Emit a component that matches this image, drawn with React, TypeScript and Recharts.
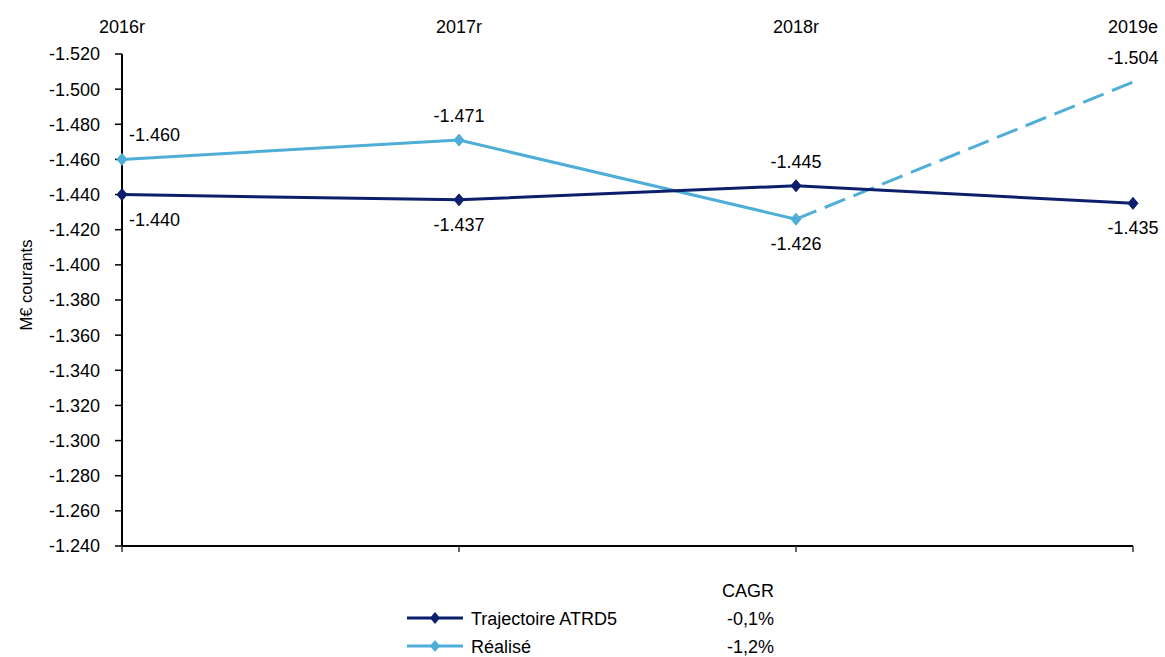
import React from 'react';
import { LineChart, Line, XAxis, YAxis, Legend, LabelList } from 'recharts';

// ---- data ----
const years = ['2016r', '2017r', '2018r', '2019e'];
const trajectoireValues = [-1440, -1437, -1445, -1435];
const realiseValues = [-1460, -1471, -1426, -1504];
const firstEstimateIndex = 3; // 2019e is an estimate (dashed)
const seriesNames = ['Trajectoire ATRD5', 'Réalisé'];
const cagrValues = ['-0,1%', '-1,2%'];
const cagrHeader = 'CAGR';
const yTicks = [-1520, -1500, -1480, -1460, -1440, -1420, -1400, -1380, -1360, -1340, -1320, -1300, -1280, -1260, -1240];
const yAxisTitle = 'M€ courants';

// ---- style ----
const NAVY = '#0b1f6c';
const LIGHT = '#4eaed8';
const FONT = '"Liberation Sans", Arial, Helvetica, sans-serif';
const trajLabelSide = ['below', 'below', 'above', 'below'];
const realLabelSide = ['above', 'above', 'below', 'above'];

const data = years.map((year, i) => ({
  year,
  trajectoire: trajectoireValues[i],
  realise: i < firstEstimateIndex ? realiseValues[i] : null,
  realiseEstimate: i >= firstEstimateIndex - 1 ? realiseValues[i] : null,
}));

const formatValue = (v: number) => {
  const sign = v < 0 ? '-' : '';
  const s = String(Math.abs(v));
  return sign + s.replace(/\B(?=(\d{3})+(?!\d))/g, '.');
};

const makeLabel = (sides: string[], allow: (i: number) => boolean) => (props: any) => {
  const { value, index } = props;
  if (value == null || !allow(index)) return null;
  const px = props.x ?? props.viewBox?.x;
  const py = props.y ?? props.viewBox?.y;
  const above = sides[index] === 'above';
  const first = index === 0;
  return (
    <text
      x={first ? px + 7 : px}
      y={above ? py - 18 : py + 31}
      textAnchor={first ? 'start' : 'middle'}
      fontSize={18}
      fill="#000"
      fontFamily={FONT}
    >
      {formatValue(value)}
    </text>
  );
};

const makeDiamond = (color: string) => (props: any) => {
  const { cx, cy, value, index } = props;
  if (value == null || cx == null || cy == null) return <g key={`d-${index}`} />;
  return (
    <path
      key={`d-${index}`}
      d={`M${cx},${cy - 6}L${cx + 5},${cy}L${cx},${cy + 6}L${cx - 5},${cy}Z`}
      fill={color}
      stroke={color}
      strokeWidth={1}
    />
  );
};

const renderYTitle = (props: any) => {
  const vb = props.viewBox || { x: 0, y: 54, width: 122, height: 492 };
  const x = vb.x + 32;
  const y = vb.y + vb.height / 2 - 15;
  return (
    <text x={x} y={y} transform={`rotate(-90 ${x} ${y})`} textAnchor="middle" fontSize={16.5} fill="#000" fontFamily={FONT}>
      {yAxisTitle}
    </text>
  );
};

const renderNoTick = () => <g />;

const colors = [NAVY, LIGHT];

const renderLegend = () => (
  <svg width={1165} height={87} style={{ display: 'block', fontFamily: FONT }}>
    <text x={748} y={27} textAnchor="middle" fontSize={18} fill="#000">
      {cagrHeader}
    </text>
    {seriesNames.map((name, i) => {
      const cy = 48 + i * 28;
      const c = colors[i];
      return (
        <g key={name}>
          <line x1={407} x2={463} y1={cy} y2={cy} stroke={c} strokeWidth={3} />
          <path d={`M435,${cy - 6}L440,${cy}L435,${cy + 6}L430,${cy}Z`} fill={c} />
          <text x={471} y={cy + 7} fontSize={18} fill="#000">
            {name}
          </text>
          <text x={774} y={cy + 7} fontSize={18} fill="#000" textAnchor="end">
            {cagrValues[i]}
          </text>
        </g>
      );
    })}
  </svg>
);

export default function App() {
  return (
    <div style={{ position: 'absolute', left: 0, top: 0, width: 1165, height: 657, fontFamily: FONT, background: '#fff' }}>
      <LineChart width={1165} height={657} data={data} margin={{ top: 0, right: 32, bottom: 101, left: 0 }}>
        <XAxis
          xAxisId="top"
          dataKey="year"
          orientation="top"
          height={54}
          axisLine={false}
          tickLine={false}
          tickSize={0}
          tickMargin={21}
          interval={0}
          tick={{ fill: '#000', fontSize: 18 }}
        />
        <XAxis
          xAxisId="bottom"
          dataKey="year"
          orientation="bottom"
          height={10}
          axisLine={{ stroke: '#000', strokeWidth: 2 }}
          tickLine={{ stroke: '#333', strokeWidth: 1.5 }}
          tickSize={6}
          interval={0}
          tick={renderNoTick}
        />
        <YAxis
          type="number"
          domain={[-1520, -1240]}
          reversed
          allowDataOverflow
          ticks={yTicks}
          interval={0}
          tickFormatter={formatValue}
          width={122}
          axisLine={{ stroke: '#000', strokeWidth: 2 }}
          tickLine={{ stroke: '#000', strokeWidth: 1.5 }}
          tickSize={7}
          tickMargin={15}
          tick={{ fill: '#000', fontSize: 18 }}
          label={renderYTitle}
        />
        <Legend
          layout="horizontal"
          verticalAlign="middle"
          align="center"
          content={renderLegend}
          wrapperStyle={{ left: 0, top: 570, width: 1165, height: 87, margin: 0, padding: 0 }}
        />
        <Line
          xAxisId="bottom"
          dataKey="realiseEstimate"
          stroke={LIGHT}
          strokeWidth={3}
          strokeDasharray="22 9"
          dot={false}
          activeDot={false}
          isAnimationActive={false}
          legendType="none"
        >
          <LabelList dataKey="realiseEstimate" content={makeLabel(realLabelSide, (i) => i >= firstEstimateIndex)} />
        </Line>
        <Line
          xAxisId="bottom"
          dataKey="realise"
          name={seriesNames[1]}
          stroke={LIGHT}
          strokeWidth={3}
          dot={makeDiamond(LIGHT)}
          activeDot={false}
          isAnimationActive={false}
        >
          <LabelList dataKey="realise" content={makeLabel(realLabelSide, (i) => i < firstEstimateIndex)} />
        </Line>
        <Line
          xAxisId="bottom"
          dataKey="trajectoire"
          name={seriesNames[0]}
          stroke={NAVY}
          strokeWidth={3}
          dot={makeDiamond(NAVY)}
          activeDot={false}
          isAnimationActive={false}
        >
          <LabelList dataKey="trajectoire" content={makeLabel(trajLabelSide, () => true)} />
        </Line>
      </LineChart>
    </div>
  );
}
